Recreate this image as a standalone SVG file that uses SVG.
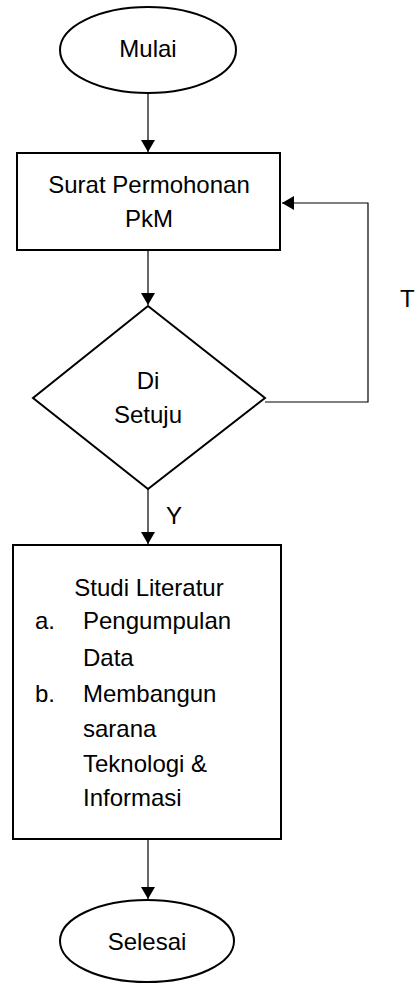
<svg xmlns="http://www.w3.org/2000/svg" width="417" height="985" viewBox="0 0 417 985">
<style>
.shape{fill:#fff;stroke:#000;stroke-width:2}
.conn{fill:none;stroke:#000;stroke-width:1.2}
text{font-family:"Liberation Sans",Arial,sans-serif;font-size:24px;fill:#000}
.c{text-anchor:middle}
</style>
<defs>
<marker id="ah" markerWidth="12" markerHeight="14" refX="12" refY="7" orient="auto" markerUnits="userSpaceOnUse">
<path d="M0,0 L12,7 L0,14 Z" fill="#000"/>
</marker>
</defs>
<rect width="417" height="985" fill="#fff"/>
<g id="connectors">
<line class="conn" x1="148" y1="93" x2="148" y2="152" marker-end="url(#ah)"/>
<line class="conn" x1="148" y1="251" x2="148" y2="305" marker-end="url(#ah)"/>
<polyline class="conn" points="265,402 368,402 368,203 282,203" marker-end="url(#ah)"/>
<line class="conn" x1="148" y1="489" x2="148" y2="544" marker-end="url(#ah)"/>
<line class="conn" x1="148" y1="840" x2="148" y2="899" marker-end="url(#ah)"/>
<text x="400" y="307">T</text>
<text x="166" y="524">Y</text>
</g>
<g id="mulai">
<ellipse class="shape" cx="148" cy="50" rx="88" ry="43"/>
<text class="c" x="148" y="57">Mulai</text>
</g>
<g id="surat">
<rect class="shape" x="17" y="153" width="263" height="97"/>
<text class="c" x="149" y="193">Surat Permohonan</text>
<text class="c" x="149" y="227">PkM</text>
</g>
<g id="disetuju">
<polygon class="shape" points="148,306 265,398 148,489 33,398"/>
<text class="c" x="148" y="389">Di</text>
<text class="c" x="148" y="423">Setuju</text>
</g>
<g id="studi">
<rect class="shape" x="13" y="545" width="268" height="294"/>
<text class="c" x="149" y="596">Studi Literatur</text>
<text x="35" y="629">a.</text>
<text x="83" y="629">Pengumpulan</text>
<text x="83" y="666">Data</text>
<text x="35" y="702">b.</text>
<text x="83" y="702">Membangun</text>
<text x="83" y="737">sarana</text>
<text x="83" y="772">Teknologi &amp;</text>
<text x="83" y="806">Informasi</text>
</g>
<g id="selesai">
<ellipse class="shape" cx="147" cy="941" rx="87" ry="41"/>
<text class="c" x="147" y="950">Selesai</text>
</g>
</svg>
